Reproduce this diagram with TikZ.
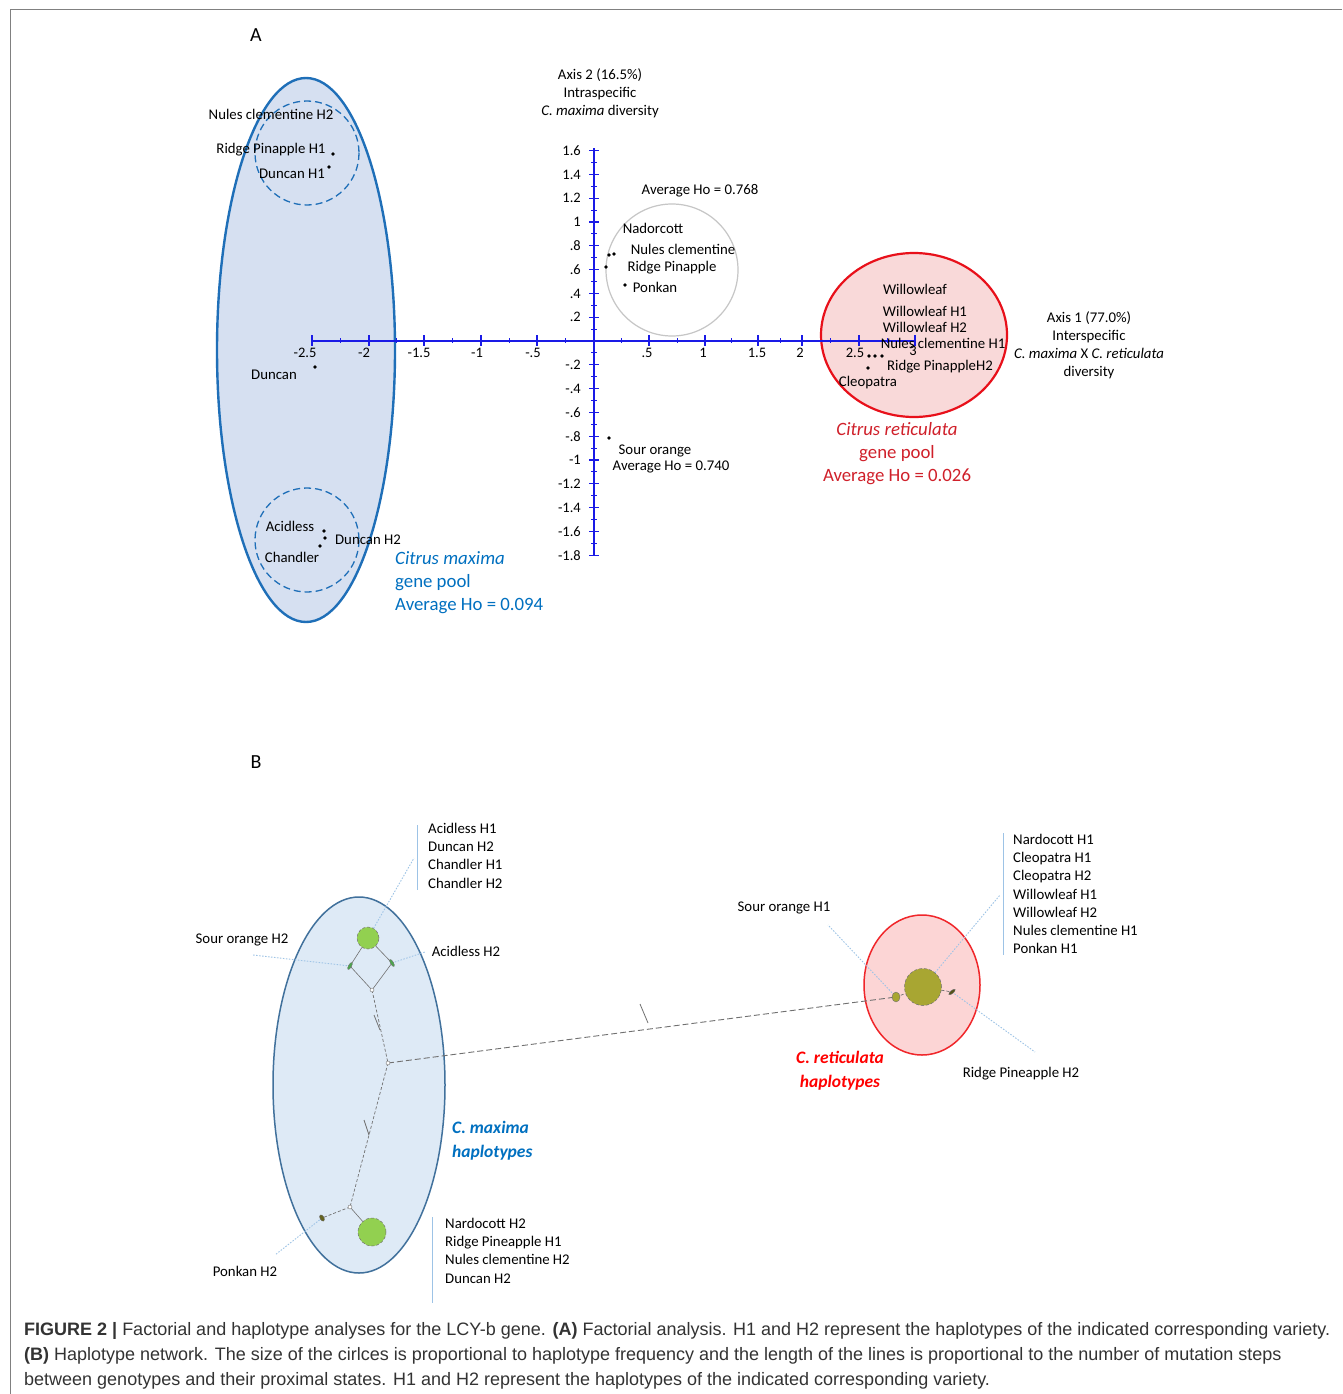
\documentclass[tikz,border=0pt]{standalone}
\usepackage{fontspec}
\usetikzlibrary{shapes.geometric}
\newfontfamily\carl{Carlito}
\newfontfamily\capf{Liberation Sans}
\definecolor{axblue}{HTML}{1A1AE6}
\definecolor{ellA}{HTML}{D6E0F1}
\definecolor{ellAd}{HTML}{1F6FB8}
\definecolor{cmax}{HTML}{0070C0}
\definecolor{redA}{HTML}{E8101A}
\definecolor{pinkA}{HTML}{F9D9D9}
\definecolor{cret}{HTML}{D0202A}
\definecolor{ellB}{HTML}{DEEAF6}
\definecolor{ellBd}{HTML}{41719C}
\definecolor{redB}{HTML}{F0262A}
\definecolor{pinkB}{HTML}{FCD5D5}
\definecolor{gr}{HTML}{92D050}
\definecolor{olive}{HTML}{A8A632}
\definecolor{lead}{HTML}{9DC3E6}
\definecolor{net}{HTML}{707070}
\definecolor{capc}{HTML}{333333}
\begin{document}
\begin{tikzpicture}[x=1pt,y=-1pt,
  lbl/.style={font=\carl\fontsize{14.8}{17}\selectfont, inner sep=0pt},
  lblb/.style={font=\carl\fontsize{14.8}{18.2}\selectfont, inner sep=0pt, align=left, anchor=north west},
  tk/.style={font=\carl\fontsize{14.5}{16}\selectfont, inner sep=0pt},
  big/.style={font=\carl\fontsize{18.8}{23}\selectfont, inner sep=0pt},
  dot/.style={circle, fill=black, inner sep=0pt, minimum size=3.6pt},
  hnode/.style={circle, inner sep=0pt, draw=net, densely dashed, line width=0.5pt},
  small/.style={ellipse, inner sep=0pt, minimum width=3pt, minimum height=8pt, fill=green!50!black!70, draw=net, line width=0.4pt},
  netd/.style={draw=net, line width=0.7pt, dash pattern=on 3pt off 2pt},
  nets/.style={draw=net, line width=0.6pt},
  leader/.style={draw=lead, line width=0.9pt, dash pattern=on 1.5pt off 1.5pt},
  bar/.style={draw=lead, line width=0.8pt},
  captxt/.style={font=\capf\fontsize{18}{20}\selectfont, text=capc, inner sep=0pt, anchor=base west}
]
\useasboundingbox (0,0) rectangle (1342,1394);
\fill[white] (0,0) rectangle (1342,1394);
% frame
\draw[gray, line width=1pt] (1342,10) -- (10,10) -- (10,1394);

% ================= Panel A =================
\node[font=\carl\fontsize{20}{22}\selectfont] (labA) at (256,35) {A};

\draw[fill=ellA, draw=ellAd, line width=2.4pt] (306,350) ellipse [x radius=89, y radius=272];
\draw[ellAd, line width=1.3pt, dash pattern=on 7pt off 4pt] (307,153) circle [radius=52];
\draw[ellAd, line width=1.3pt, dash pattern=on 7pt off 4pt] (307,540) circle [radius=52];

\draw[gray!45, line width=1.2pt] (672,270) circle [radius=66];
\draw[fill=pinkA, draw=redA, line width=2.2pt] (914,335) ellipse [x radius=93, y radius=82];

% axes
\draw[axblue, line width=1.6pt] (312,341) -- (915,341);
\draw[axblue, line width=1.6pt] (594,148) -- (594,555);
\foreach \x in {312,369,424,481,537,649,705,758,802,859,915}
  \draw[axblue, line width=1.3pt] (\x,335) -- (\x,346);
\foreach \x in {340.5,396.5,452.5,509,565.5,621.5,677,731.5,780,830.5,887}
  \draw[axblue, line width=1pt] (\x,338) -- (\x,343);
\foreach \v in {-1.8,-1.6,-1.4,-1.2,-1,-0.8,-0.6,-0.4,-0.2,0.2,0.4,0.6,0.8,1,1.2,1.4,1.6}
  \draw[axblue, line width=1.3pt] (589,{341-\v*119}) -- (599,{341-\v*119});
\foreach \v in {-1.7,-1.5,-1.3,-1.1,-0.9,-0.7,-0.5,-0.3,-0.1,0.1,0.3,0.5,0.7,0.9,1.1,1.3,1.5}
  \draw[axblue, line width=1pt] (591,{341-\v*119}) -- (597,{341-\v*119});

% horizontal tick labels
\node[tk] (hx1) at (305,353) {-2.5};
\node[tk] (hx2) at (364,353) {-2};
\node[tk] (hx3) at (419,353) {-1.5};
\node[tk] (hx4) at (477,353) {-1};
\node[tk] (hx5) at (533,353) {-.5};
\node[tk] (hx6) at (647,353) {.5};
\node[tk] (hx7) at (703,353) {1};
\node[tk] (hx8) at (757,353) {1.5};
\node[tk] (hx9) at (800,353) {2};
\node[tk] (hx10) at (855,353) {2.5};
\node[tk] (hx11) at (913,351) {3};
% vertical tick labels
\foreach \v/\t [count=\i] in {1.6/1.6,1.4/1.4,1.2/1.2,1/1,0.8/.8,0.6/.6,0.4/.4,0.2/.2,-0.2/-.2,-0.4/-.4,-0.6/-.6,-0.8/-.8,-1/-1,-1.2/-1.2,-1.4/-1.4,-1.6/-1.6,-1.8/-1.8}
  \node[tk, anchor=east] (vy\i) at (581,{341-\v*119}) {\t};

% axis titles
\node[lbl, align=center, font=\carl\fontsize{14.8}{18}\selectfont] (ax2) at (600,93) {Axis 2 (16.5\%)\\Intraspecific\\\textit{C. maxima} diversity};
\node[lbl, align=center, font=\carl\fontsize{14.8}{18}\selectfont] (ax1) at (1089,345) {Axis 1 (77.0\%)\\Interspecific\\\textit{C. maxima} X \textit{C. reticulata}\\diversity};

% left cluster labels
\node[lbl] (t1) at (271,114) {Nules clementine H2};
\node[lbl] (t2) at (271,150) {Ridge Pinapple H1};
\node[lbl] (t3) at (292,174) {Duncan H1};
\node[dot] (d1) at (333,154) {};
\node[dot] (d2) at (329,167) {};
\node[lbl] (t4) at (274,375) {Duncan};
\node[dot] (d3) at (315,367) {};
\node[lbl] (t5) at (290,526) {Acidless};
\node[lbl] (t6) at (368,540) {Duncan H2};
\node[lbl] (t7) at (292,557) {Chandler};
\node[dot] (d4) at (324,531) {};
\node[dot] (d5) at (325,538) {};
\node[dot] (d6) at (320,546) {};
\node[big, text=cmax, align=left, anchor=north west] (cm) at (395,551) {\textit{Citrus maxima}\\gene pool\\Average Ho = 0.094};

% center cluster
\node[lbl] (t8) at (700,191) {Average Ho = 0.768};
\node[lbl] (t9) at (653,228) {Nadorcott};
\node[lbl] (t10) at (683,249) {Nules clementine};
\node[lbl] (t11) at (672,268) {Ridge Pinapple};
\node[lbl] (t12) at (655,287) {Ponkan};
\node[dot] (d7) at (609,255) {};
\node[dot] (d8) at (614,254) {};
\node[dot] (d9) at (606,267) {};
\node[dot] (d10) at (625,285) {};
\node[lbl] (t13) at (655,451) {Sour orange};
\node[lbl] (t14) at (671,467) {Average Ho = 0.740};
\node[dot] (d11) at (609,438) {};

% right cluster
\node[lbl] (t15) at (915,289) {Willowleaf};
\node[lbl] (t16) at (925,311) {Willowleaf H1};
\node[lbl] (t17) at (925,327) {Willowleaf H2};
\node[lbl] (t18) at (943,343) {Nules clementine H1};
\node[lbl] (t19) at (940,367) {Ridge PinappleH2};
\node[lbl] (t20) at (868,383) {Cleopatra};
\node[dot] (d12) at (869,356) {};
\node[dot] (d13) at (875,356) {};
\node[dot] (d14) at (882,356) {};
\node[dot] (d15) at (868,368) {};
\node[big, text=cret, align=center] (cr) at (897,454) {\textit{Citrus reticulata}\\gene pool\\Average Ho = 0.026};

% ================= Panel B =================
\node[font=\carl\fontsize{20}{22}\selectfont] (labB) at (256,762) {B};

\draw[fill=ellB, draw=ellBd, line width=1.5pt] (359,1085) ellipse [x radius=86, y radius=188];
\draw[fill=pinkB, draw=redB, line width=1.5pt] (922,985) ellipse [x radius=58, y radius=70];

% bars and lists
\draw[bar] (417,825) -- (417,890);
\draw[bar] (432,1217) -- (432,1303);
\draw[bar] (1003,833) -- (1003,955);
\node[lblb] (l1) at (428,823) {Acidless H1\\Duncan H2\\Chandler H1\\Chandler H2};
\node[lblb] (l2) at (445,1218) {Nardocott H2\\Ridge Pineapple H1\\Nules clementine H2\\Duncan H2};
\node[lblb] (l3) at (1013,834) {Nardocott H1\\Cleopatra H1\\Cleopatra H2\\Willowleaf H1\\Willowleaf H2\\Nules clementine H1\\Ponkan H1};
\node[lbl] (so2) at (242,940) {Sour orange H2};
\node[lbl] (ac2) at (466,951) {Acidless H2};
\node[lbl] (pk2) at (245,1271) {Ponkan H2};
\node[lbl] (so1) at (784,908) {Sour orange H1};
\node[lbl] (rp2) at (1021,1074) {Ridge Pineapple H2};
\node[font=\carl\fontsize{17.5}{24}\selectfont\bfseries\itshape, text=cmax, align=left, anchor=north west, inner sep=0pt] (cmh) at (452,1121) {C. maxima\\haplotypes};
\node[font=\carl\fontsize{17.5}{24}\selectfont\bfseries\itshape, text=red, align=center, inner sep=0pt] (crh) at (840,1071) {C. reticulata\\haplotypes};

% network nodes
\coordinate (nL) at (350,966);
\coordinate (nR) at (392,963);
\coordinate (nM) at (372,990);
\coordinate (J) at (388,1063);
\coordinate (nB) at (350,1207);
\coordinate (nP) at (322,1218);
\coordinate (rL) at (896,997);
\coordinate (rR) at (952,992);
\node[hnode, fill=gr, minimum size=22pt] (gTop) at (368,938) {};
\node[hnode, fill=gr, minimum size=28pt] (gBot) at (372,1232) {};
\node[hnode, fill=olive, minimum size=37pt] (rC) at (923,987) {};

% leader lines
\coordinate (e1) at (414,858);
\coordinate (e2) at (253,955);
\coordinate (e3) at (425,952);
\coordinate (e4) at (275,1255);
\coordinate (e5) at (828,925);
\coordinate (e6) at (1000,895);
\coordinate (e7) at (1035,1052);
\draw[leader] (gTop) -- (e1);
\draw[leader] (nL) -- (e2);
\draw[leader] (nR) -- (e3);
\draw[leader] (nP) -- (e4);
\draw[leader] (rL) -- (e5);
\draw[leader] (rC) -- (e6);
\draw[leader] (rR) -- (e7);

% edges
\draw[nets] (gTop) -- (nL);
\draw[nets] (gTop) -- (nR);
\draw[nets] (nL) -- (nM);
\draw[nets] (nR) -- (nM);
\draw[netd] (nM) -- (J);
\draw[netd] (J) -- (nB);
\draw[nets] (nB) -- (gBot);
\draw[netd] (nB) -- (nP);
\draw[netd, line width=0.9pt, dash pattern=on 6pt off 3pt] (J) -- (rL);
\draw[netd] (rL) -- (rC);
\draw[netd] (rC) -- (rR);

% small nodes / mutation markers
\node[small, rotate=-30] (mL) at (nL) {};
\node[small, rotate=30] (mR) at (nR) {};
\node[small, fill=olive!60!black, minimum width=4pt, minimum height=7pt, rotate=30] (mP) at (nP) {};
\node[small, fill=olive, minimum width=8pt, minimum height=10pt] (mRL) at (rL) {};
\node[small, fill=olive!50!black, rotate=-50] (mRR) at (rR) {};
\node[circle, draw=net, fill=white, inner sep=0pt, minimum size=4pt] (mJ) at (J) {};
\node[circle, draw=net, fill=white, inner sep=0pt, minimum size=4pt] (mM) at (nM) {};
\node[circle, draw=net, fill=white, inner sep=0pt, minimum size=4pt] (mB) at (nB) {};
\draw[net, line width=0.8pt] (374,1015) -- (380,1030);
\draw[net, line width=0.8pt] (364,1120) -- (369,1135);
\draw[net, line width=0.8pt] (640,1004) -- (648,1023);

% ================= Caption =================
\node[captxt] (c1) at (24,1335) {\textbf{FIGURE 2 |} Factorial and haplotype analyses for the LCY-b gene. \textbf{(A)} Factorial analysis. H1 and H2 represent the haplotypes of the indicated corresponding variety.};
\node[captxt] (c2) at (24,1360) {\textbf{(B)} Haplotype network. The size of the cirlces is proportional to haplotype frequency and the length of the lines is proportional to the number of mutation steps};
\node[captxt] (c3) at (24,1385) {between genotypes and their proximal states. H1 and H2 represent the haplotypes of the indicated corresponding variety.};
\end{tikzpicture}
\end{document}
